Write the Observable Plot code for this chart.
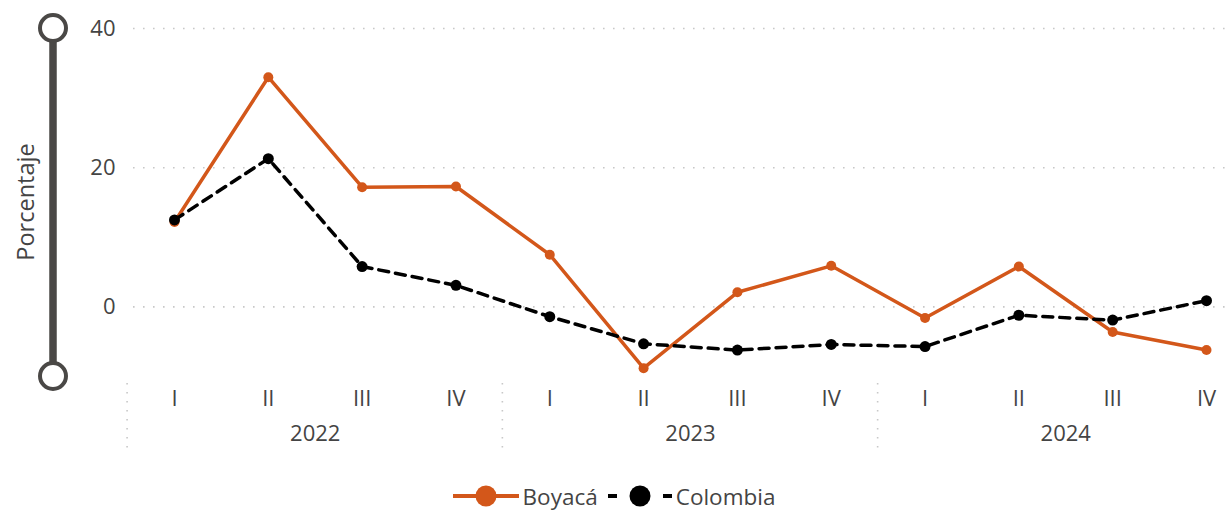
<!DOCTYPE html>
<html>
<head>
<meta charset="utf-8">
<script src="https://cdn.jsdelivr.net/npm/d3@7"></script>
<script src="https://cdn.jsdelivr.net/npm/@observablehq/plot@0.6"></script>
<style>
  body { margin: 0; background: #fff; font-family: "Open Sans", sans-serif; }
  #legend { height: 32px; display: flex; justify-content: center; align-items: center; font-size: 22.5px; color: #444; }
  #legend .item { display: flex; align-items: center; }
  #legend svg { display: block; }
</style>
</head>
<body>
<div id="chart"></div>
<div id="legend"></div>
<script>
const years = ["2022", "2023", "2024"];
const quarters = ["I", "II", "III", "IV"];
const boyaca = [12.2, 33.0, 17.2, 17.3, 7.5, -8.8, 2.1, 5.9, -1.6, 5.8, -3.6, -6.2];
const colombia = [12.5, 21.3, 5.8, 3.1, -1.4, -5.3, -6.2, -5.4, -5.7, -1.2, -1.9, 0.9];
const yTicks = [0, 20, 40];
const yLabel = "Porcentaje";
const seriesNames = ["Boyacá", "Colombia"];
const seriesColors = ["#D3571A", "#000000"];

const keys = years.flatMap(y => quarters.map(q => y + "-" + q));
const rows = [];
keys.forEach((k, i) => {
  rows.push({key: k, serie: seriesNames[0], value: boyaca[i]});
  rows.push({key: k, serie: seriesNames[1], value: colombia[i]});
});
const bRows = rows.filter(d => d.serie === seriesNames[0]);
const cRows = rows.filter(d => d.serie === seriesNames[1]);

const left = 174, right = 1206;
const step = (right - left) / (keys.length - 1);
const textColor = "#444";
const font = "Open Sans";

const chart = Plot.plot({
  width: 1228,
  height: 480,
  marginLeft: 127,
  marginRight: 0,
  marginTop: 28,
  marginBottom: 104,
  style: {fontFamily: font, color: textColor, background: "#fff"},
  x: {type: "point", domain: keys, range: [left, right], padding: 0, round: false},
  y: {domain: [-10, 40]},
  marks: [
    Plot.ruleY(yTicks, {stroke: "#c8c8c8", strokeWidth: 1.6, strokeDasharray: "1.6,8.4", strokeDashoffset: -6}),
    Plot.axisY(yTicks, {tickSize: 0, tickPadding: 12, fontSize: 22, label: null, fill: textColor}),
    Plot.axisX({tickFormat: d => d.split("-")[1], tickSize: 0, tickPadding: 14, fontSize: 22, label: null, fill: textColor}),
    Plot.text(years, {x: d => d + "-II", text: d => d, frameAnchor: "bottom", lineAnchor: "top", dy: 49, dx: step / 2, fontSize: 22, fill: textColor}),
    Plot.line(bRows, {x: "key", y: "value", stroke: seriesColors[0], strokeWidth: 3.5}),
    Plot.dot(bRows, {x: "key", y: "value", r: 5, fill: seriesColors[0], stroke: "none"}),
    Plot.line(cRows, {x: "key", y: "value", stroke: seriesColors[1], strokeWidth: 3.5, strokeDasharray: "10,7"}),
    Plot.dot(cRows, {x: "key", y: "value", r: 5.5, fill: seriesColors[1], stroke: "none"})
  ]
});
document.getElementById("chart").appendChild(chart);

// decorations via the chart's own scales
const xs = chart.scale("x"), ys = chart.scale("y");
const svg = d3.select(chart);
const y0 = ys.apply(-10), yTop = ys.apply(40);
// year separators
years.forEach(y => {
  const xp = xs.apply(y + "-I") - step / 2;
  svg.append("line").attr("x1", xp).attr("x2", xp).attr("y1", y0 + 7).attr("y2", y0 + 79)
    .attr("stroke", "#c8c8c8").attr("stroke-width", 1.6).attr("stroke-dasharray", "1.6,7.4");
});
// slider on the left
const g = svg.append("g");
g.append("line").attr("x1", 53).attr("x2", 53).attr("y1", yTop).attr("y2", y0)
  .attr("stroke", "#4a4846").attr("stroke-width", 7.5);
[yTop, y0].forEach(yy => {
  g.append("circle").attr("cx", 53).attr("cy", yy).attr("r", 13)
    .attr("fill", "#fff").attr("stroke", "#4a4846").attr("stroke-width", 4);
});
// y axis title
svg.append("text")
  .attr("transform", `translate(25,${(yTop + y0) / 2}) rotate(-90)`)
  .attr("text-anchor", "middle").attr("dominant-baseline", "central")
  .attr("font-family", font).attr("font-size", 23.5).attr("fill", textColor)
  .text(yLabel);

// legend
const legend = d3.select("#legend");
const it1 = legend.append("div").attr("class", "item");
const s1 = it1.append("svg").attr("width", 66).attr("height", 26);
s1.append("line").attr("x1", 0).attr("x2", 66).attr("y1", 13).attr("y2", 13).attr("stroke", seriesColors[0]).attr("stroke-width", 4);
s1.append("circle").attr("cx", 33).attr("cy", 13).attr("r", 10.5).attr("fill", seriesColors[0]);
it1.append("span").style("margin-left", "4px").text(seriesNames[0]);
const it2 = legend.append("div").attr("class", "item").style("margin-left", "10px");
const s2 = it2.append("svg").attr("width", 64).attr("height", 26);
s2.append("line").attr("x1", 0).attr("x2", 64).attr("y1", 13).attr("y2", 13).attr("stroke", seriesColors[1]).attr("stroke-width", 4).attr("stroke-dasharray", "9,14,18,14,9");
s2.append("circle").attr("cx", 32).attr("cy", 13).attr("r", 10.5).attr("fill", seriesColors[1]);
it2.append("span").style("margin-left", "4px").text(seriesNames[1]);
</script>
</body>
</html>
